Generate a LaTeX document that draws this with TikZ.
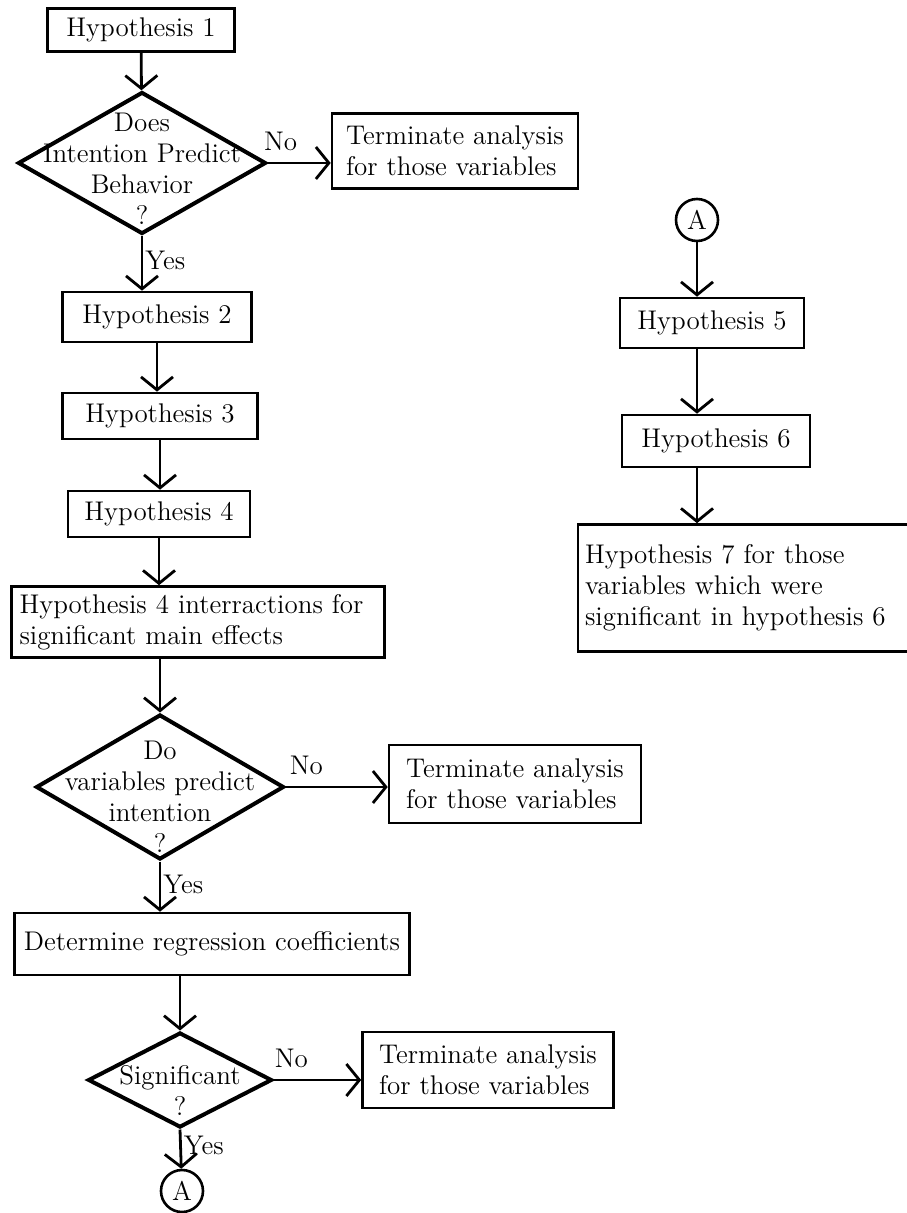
\documentclass[tikz,border=0pt]{standalone}
\usepackage{tikz}
\usetikzlibrary{shapes.geometric,arrows.meta,positioning}

\begin{document}
\begin{tikzpicture}[x=0.5pt,y=-0.5pt,
    font=\fontsize{13.5}{15.5}\selectfont,
    hypbox/.style={draw, line width=1.3pt, rectangle, inner sep=3pt},
    decision/.style={draw, line width=2pt, diamond, inner sep=0pt},
    connector/.style={draw, line width=1.3pt, circle, inner sep=0pt, minimum size=21pt},
    flow/.style={line width=1.4pt, -{Straight Barb[length=6.5pt,width=16pt,line width=1.4pt]}}]
    \useasboundingbox (0,0) rectangle (906,1213);

    % Main chain
    \node[hypbox, minimum width=93.5pt, minimum height=21.5pt] (h1) at (141,30) {Hypothesis 1};
    \node[decision, minimum width=124pt, minimum height=71pt,
        label={[align=center, yshift=-3pt]center:Does\\Intention Predict\\Behavior\\?}] (d1) at (142,163) {};
    \node[hypbox, minimum width=94.5pt, minimum height=25pt] (h2) at (157,317) {Hypothesis 2};
    \node[hypbox, minimum width=97.5pt, minimum height=23pt] (h3) at (160,416) {Hypothesis 3};
    \node[hypbox, minimum width=91pt, minimum height=23pt] (h4) at (159,514) {Hypothesis 4};
    \node[hypbox, text width=178.5pt, inner xsep=4pt, minimum height=35.5pt, align=left] (h4i) at (198,622)
        {Hypothesis 4 interractions for\\significant main effects};
    \node[decision, minimum width=124pt, minimum height=72.5pt,
        label={[align=center, yshift=-5pt]center:Do\\variables predict\\intention\\?}] (d2) at (160,787) {};
    \node[hypbox, minimum width=197.5pt, minimum height=31pt] (det) at (212,944) {Determine regression coefficients};
    \node[decision, minimum width=92pt, minimum height=47.5pt,
        label={[align=center, yshift=-5pt]center:Significant\\?}] (d3) at (180,1080) {};
    \node[connector] (a1) at (182,1191) {A};

    % Terminate branches
    \node[hypbox, minimum width=123pt, minimum height=37.5pt, align=left] (t1) at (455,151)
        {Terminate analysis\\for those variables};
    \node[hypbox, minimum width=126pt, minimum height=39pt, align=left] (t2) at (515,784)
        {Terminate analysis\\for those variables};
    \node[hypbox, minimum width=125.5pt, minimum height=38pt, align=left] (t3) at (488,1070)
        {Terminate analysis\\for those variables};

    % Continuation
    \node[connector] (a2) at (697,220) {A};
    \node[hypbox, minimum width=92pt, minimum height=25pt] (h5) at (712,323) {Hypothesis 5};
    \node[hypbox, minimum width=94pt, minimum height=26pt] (h6) at (716,441) {Hypothesis 6};
    \node[hypbox, text width=160pt, inner xsep=3.5pt, minimum height=63.5pt, align=left] (h7) at (745,588)
        {Hypothesis 7 for those\\variables which were\\significant in hypothesis 6};

    % Arrows
    \draw[flow] (h1) -- (d1);
    \draw[flow] (d1.south) -- node[right, pos=0.45, inner xsep=1pt] (yes1) {Yes} (d1.south |- h2.north);
    \draw[flow] (d1.east) -- node[above, pos=0.2, yshift=2pt] (no1) {No} (d1.east -| t1.west);
    \draw[flow] (h2.south) -- (h2.south |- h3.north);
    \draw[flow] (h3.south) -- (h3.south |- h4.north);
    \draw[flow] (h4.south) -- (h4.south |- h4i.north);
    \draw[flow] (d2.north |- h4i.south) -- (d2.north);
    \draw[flow] (d2.east) -- node[above, pos=0.2, yshift=2pt] (no2) {No} (d2.east -| t2.west);
    \draw[flow] (d2.south) -- node[right, pos=0.45, inner xsep=1pt] (yes2) {Yes} (d2.south |- det.north);
    \draw[flow] (d3.north |- det.south) -- (d3.north);
    \draw[flow] (d3.east) -- node[above, pos=0.2, yshift=2pt] (no3) {No} (d3.east -| t3.west);
    \draw[flow] (d3.south) -- node[right, pos=0.4, inner xsep=1pt] (yes3) {Yes} (a1);
    \draw[flow] (a2.south) -- (a2.south |- h5.north);
    \draw[flow] (h5.south -| a2.south) -- (h6.north -| a2.south);
    \draw[flow] (h6.south -| a2.south) -- (h7.north -| a2.south);
\end{tikzpicture}
\end{document}
